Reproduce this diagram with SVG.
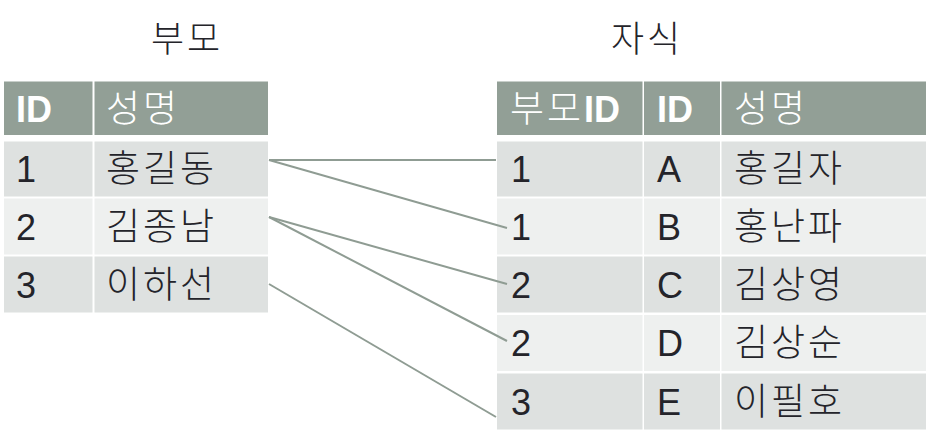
<svg xmlns="http://www.w3.org/2000/svg" width="932" height="446" viewBox="0 0 932 446">
<style>
  text { font-family: "Liberation Sans", "Noto Sans CJK KR", sans-serif; font-size: 36px; fill: #24242a; }
  .title { font-family: "Noto Sans CJK KR", sans-serif; font-size: 36px; text-anchor: middle; letter-spacing: 3px; font-weight: 300; }
  .hd { fill: #929f96; }
  .odd { fill: #dee1e0; }
  .even { fill: #eef0ef; }
  .ht { fill: #ffffff; font-weight: bold; }
  .hk { fill: #ffffff; font-family: "Noto Sans CJK KR", sans-serif; font-weight: 300; font-size: 37px; letter-spacing: 3px; }
  .k { font-family: "Noto Sans CJK KR", sans-serif; font-size: 37px; letter-spacing: 3px; font-weight: 300; }
  .conn line { stroke: #8f9c93; stroke-width: 2; }
</style>
<g id="title-parent"><text class="title" x="187" y="52">부모</text></g>
<g id="title-child"><text class="title" x="647" y="52">자식</text></g>

<g id="parent-table">
  <rect class="hd" x="4" y="81.5" width="88.5" height="53.5"/>
  <rect class="hd" x="94.5" y="81.5" width="173.5" height="53.5"/>
  <text class="ht" x="16" y="122">ID</text>
  <text class="hk" x="106" y="122">성명</text>

  <rect class="odd" x="4" y="141.5" width="88.5" height="55"/>
  <rect class="odd" x="94.5" y="141.5" width="173.5" height="55"/>
  <text x="16" y="182">1</text>
  <text class="k" x="106" y="182">홍길동</text>

  <rect class="even" x="4" y="198.5" width="88.5" height="56"/>
  <rect class="even" x="94.5" y="198.5" width="173.5" height="56"/>
  <text x="16" y="240">2</text>
  <text class="k" x="106" y="240">김종남</text>

  <rect class="odd" x="4" y="256.5" width="88.5" height="56"/>
  <rect class="odd" x="94.5" y="256.5" width="173.5" height="56"/>
  <text x="16" y="298">3</text>
  <text class="k" x="106" y="298">이하선</text>
</g>

<g id="child-table">
  <rect class="hd" x="497" y="81.5" width="145.5" height="53.5"/>
  <rect class="hd" x="644" y="81.5" width="76" height="53.5"/>
  <rect class="hd" x="721.5" y="81.5" width="204.5" height="53.5"/>
  <text x="510" y="122"><tspan class="hk" letter-spacing="1px">부모</tspan><tspan class="ht">ID</tspan></text>
  <text class="ht" x="657" y="122">ID</text>
  <text class="hk" x="734" y="122">성명</text>

  <rect class="odd" x="497" y="141.5" width="145.5" height="55"/>
  <rect class="odd" x="644" y="141.5" width="76" height="55"/>
  <rect class="odd" x="721.5" y="141.5" width="204.5" height="55"/>
  <text x="511" y="182">1</text><text x="657" y="182">A</text><text class="k" x="734" y="182">홍길자</text>

  <rect class="even" x="497" y="198.5" width="145.5" height="56"/>
  <rect class="even" x="644" y="198.5" width="76" height="56"/>
  <rect class="even" x="721.5" y="198.5" width="204.5" height="56"/>
  <text x="511" y="240">1</text><text x="657" y="240">B</text><text class="k" x="734" y="240">홍난파</text>

  <rect class="odd" x="497" y="256.5" width="145.5" height="56"/>
  <rect class="odd" x="644" y="256.5" width="76" height="56"/>
  <rect class="odd" x="721.5" y="256.5" width="204.5" height="56"/>
  <text x="511" y="298">2</text><text x="657" y="298">C</text><text class="k" x="734" y="298">김상영</text>

  <rect class="even" x="497" y="315" width="145.5" height="56"/>
  <rect class="even" x="644" y="315" width="76" height="56"/>
  <rect class="even" x="721.5" y="315" width="204.5" height="56"/>
  <text x="511" y="356">2</text><text x="657" y="356">D</text><text class="k" x="734" y="356">김상순</text>

  <rect class="odd" x="497" y="373.5" width="145.5" height="56"/>
  <rect class="odd" x="644" y="373.5" width="76" height="56"/>
  <rect class="odd" x="721.5" y="373.5" width="204.5" height="56"/>
  <text x="511" y="415">3</text><text x="657" y="415">E</text><text class="k" x="734" y="415">이필호</text>
</g>

<g id="connectors" class="conn">
  <line x1="269" y1="160" x2="496" y2="160"/>
  <line x1="269" y1="160" x2="507" y2="228"/>
  <line x1="269" y1="217" x2="507" y2="284"/>
  <line x1="269" y1="217" x2="507" y2="341"/>
  <line x1="269" y1="284" x2="496" y2="417"/>
</g>
</svg>
